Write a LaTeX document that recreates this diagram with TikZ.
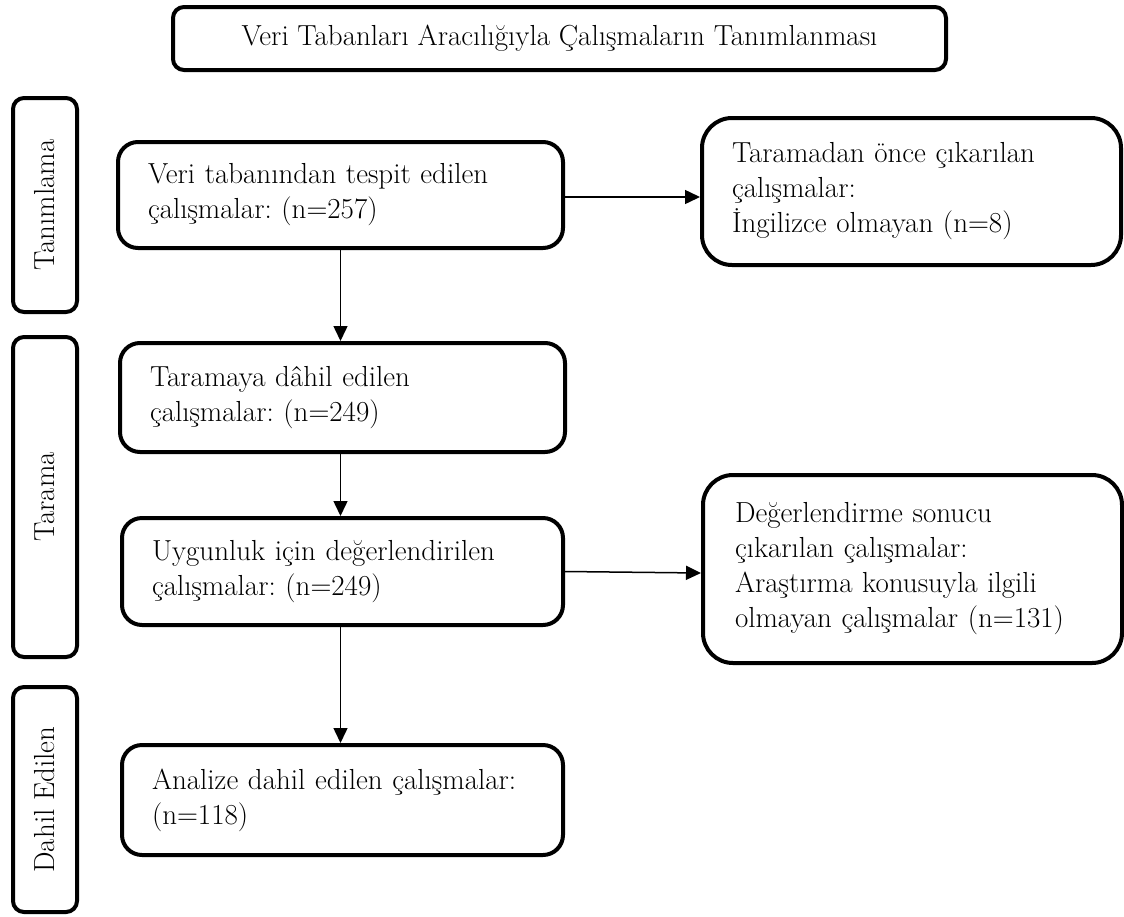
\documentclass[tikz,border=0pt]{standalone}
\usetikzlibrary{arrows.meta}
\frenchspacing
\begin{document}
\begin{tikzpicture}[x=1pt,y=-1pt,
  box/.style={draw, line width=4pt, rounded corners=20pt, align=left,
    inner xsep=30pt, inner ysep=0pt, font=\fontsize{29}{35}\selectfont},
  sidebox/.style={draw, line width=4pt, rounded corners=30pt, align=left,
    inner xsep=30pt, inner ysep=0pt, font=\fontsize{29}{35}\selectfont},
  lab/.style={draw, line width=4pt, rounded corners=11pt, rotate=90,
    minimum height=64pt, inner sep=0pt, font=\fontsize{29}{32}\selectfont},
  titlebox/.style={draw, line width=4pt, rounded corners=11pt,
    minimum width=773pt, minimum height=63pt, inner sep=0pt,
    font=\fontsize{29}{32}\selectfont},
  arr/.style={-{Triangle[length=15pt,width=14pt]}, line width=1.5pt}]
\useasboundingbox (0,0) rectangle (1124,916);

\node[titlebox] (t) at (559.5,38.5) {Veri Tabanları Aracılığıyla Çalışmaların Tanımlanması};

\node[lab, minimum width=214pt] (l1) at (45,205) {Tanımlama};
\node[lab, minimum width=320pt] (l2) at (45,497) {Tarama};
\node[lab, minimum width=225pt] (l3) at (45,799.5) {Dahil Edilen};

\node[box, text width=385pt, minimum height=106pt] (b1) at (340.5,195)
  {Veri tabanından tespit edilen\\ çalışmalar: (n=257)};
\node[box, text width=385pt, minimum height=109pt] (b2) at (342.5,397.5)
  {Taramaya dâhil edilen\\ çalışmalar: (n=249)};
\node[box, text width=381pt, minimum height=107pt] (b3) at (342.5,571.5)
  {Uygunluk için değerlendirilen\\ çalışmalar: (n=249)};
\node[box, text width=381pt, minimum height=110pt] (b4) at (342.5,800)
  {Analize dahil edilen çalışmalar:\\ (n=118)};

\node[sidebox, text width=359pt, minimum height=147pt] (r1) at (911.5,191.5)
  {Taramadan önce çıkarılan\\ çalışmalar:\\ İngilizce olmayan (n=8)};
\node[sidebox, text width=355pt, inner xsep=32pt, minimum height=188pt] (r2) at (912.5,569)
  {Değerlendirme sonucu\\ çıkarılan çalışmalar:\\ Araştırma konusuyla ilgili\\ olmayan çalışmalar (n=131)};

\draw[arr] (b1.south) -- (b1.south |- b2.north);
\draw[arr] (b1.south |- b2.south) -- (b1.south |- b3.north);
\draw[arr] (b1.south |- b3.south) -- (b1.south |- b4.north);
\draw[arr] ([yshift=-2pt]b1.east) -- ([yshift=-2pt]b1.east -| r1.west);
\draw[arr] (b3.east) -- ([yshift=-4pt]r2.west);
\end{tikzpicture}
\end{document}
